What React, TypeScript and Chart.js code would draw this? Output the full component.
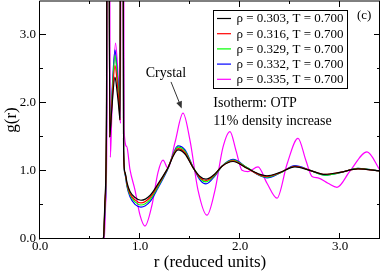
import React, { useEffect, useRef } from 'react';
import { Chart, registerables } from 'chart.js';

Chart.register(...registerables);

const FONT = '"Liberation Serif", "Times New Roman", serif';

// ---- axes ----
const xTickValues = [0, 1, 2, 3];
const xMinorValues = [0.5, 1.5, 2.5];
const yTickValues = [0, 1, 2, 3];
const yMinorValues = [0.5, 1.5, 2.5];

// ---- series ----
const seriesLabels = [
  'ρ = 0.303, T = 0.700',
  'ρ = 0.316, T = 0.700',
  'ρ = 0.329, T = 0.700',
  'ρ = 0.332, T = 0.700',
  'ρ = 0.335, T = 0.700',
];
const seriesColors = ['#000000', '#ff0000', '#00ff00', '#0000ff', '#ff00ff'];

// liquid states share one r grid
const rLiquid = [0, 0.62, 0.635, 0.65, 0.665, 0.672, 0.688, 0.697, 0.715, 0.75, 0.772, 0.79, 0.8, 0.808, 0.828, 0.836, 0.85, 0.87, 0.9, 0.95, 1.01, 1.1, 1.18, 1.27, 1.38, 1.45, 1.53, 1.6, 1.66, 1.75, 1.82, 1.93, 2.07, 2.2, 2.27, 2.4, 2.55, 2.7, 2.85, 3.0, 3.18, 3.4];
const g303 = [0, 0, 0.02, 0.6, 1.9, 7.5, 7.5, 1.5, 1.85, 2.38, 2.15, 1.9, 1.75, 7.5, 7.5, 1.3, 0.98, 0.83, 0.7, 0.61, 0.57, 0.64, 0.81, 1.02, 1.31, 1.25, 1.05, 0.92, 0.88, 0.96, 1.07, 1.14, 1.04, 0.95, 0.93, 0.98, 1.06, 1.01, 0.95, 0.98, 1.03, 1.0];
const g316 = [0, 0, 0.02, 0.55, 1.8, 7.5, 7.5, 1.5, 1.9, 2.55, 2.3, 1.98, 1.75, 7.5, 7.5, 1.3, 0.97, 0.81, 0.67, 0.575, 0.53, 0.61, 0.79, 1.02, 1.33, 1.27, 1.05, 0.9, 0.86, 0.95, 1.07, 1.15, 1.04, 0.94, 0.92, 0.975, 1.07, 1.01, 0.95, 0.98, 1.03, 1.0];
const g329 = [0, 0, 0.02, 0.5, 1.7, 7.5, 7.5, 1.5, 1.95, 2.7, 2.4, 2.05, 1.78, 7.5, 7.5, 1.3, 0.96, 0.79, 0.65, 0.545, 0.5, 0.58, 0.77, 1.01, 1.35, 1.29, 1.06, 0.89, 0.84, 0.94, 1.07, 1.16, 1.05, 0.935, 0.91, 0.97, 1.07, 1.01, 0.94, 0.975, 1.04, 1.0];
const g332 = [0, 0, 0.02, 0.45, 1.6, 7.5, 7.5, 1.5, 2.0, 2.78, 2.45, 2.08, 1.78, 7.5, 7.5, 1.3, 0.95, 0.77, 0.62, 0.51, 0.47, 0.55, 0.75, 1.0, 1.37, 1.31, 1.06, 0.87, 0.81, 0.93, 1.07, 1.17, 1.05, 0.93, 0.9, 0.97, 1.08, 1.01, 0.94, 0.975, 1.04, 1.0];

// crystal state
const rCrystal = [0, 0.63, 0.642, 0.656, 0.67, 0.677, 0.693, 0.703, 0.72, 0.755, 0.777, 0.795, 0.805, 0.813, 0.833, 0.841, 0.867, 0.9, 0.95, 1.0, 1.05, 1.12, 1.18, 1.23, 1.28, 1.35, 1.43, 1.5, 1.58, 1.67, 1.75, 1.83, 1.9, 1.96, 2.02, 2.08, 2.18, 2.27, 2.37, 2.47, 2.58, 2.66, 2.72, 2.78, 2.88, 2.97, 3.1, 3.27, 3.4];
const g335 = [0, 0, 0.02, 0.5, 1.9, 7.5, 7.5, 1.2, 1.9, 2.88, 2.5, 1.95, 1.7, 7.5, 7.5, 1.6, 1.36, 1.02, 0.72, 0.35, 0.19, 0.5, 0.98, 1.16, 1.04, 1.42, 1.85, 1.45, 0.72, 0.35, 0.72, 1.35, 1.58, 1.3, 1.01, 0.99, 1.06, 0.82, 0.6, 1.1, 1.48, 1.15, 0.92, 0.9, 0.82, 0.76, 1.0, 1.28, 1.01];

const seriesR = [rLiquid, rLiquid, rLiquid, rLiquid, rCrystal];
const seriesG = [g303, g316, g329, g332, g335];

const overlayPlugin = {
  id: 'overlay',
  afterDraw(chart: any) {
    const { ctx, chartArea: a, scales } = chart;
    const xs = scales.x;
    const ys = scales.y;
    ctx.save();
    ctx.strokeStyle = '#000';
    ctx.lineWidth = 1;
    // frame
    ctx.beginPath();
    ctx.moveTo(a.left - 0.5, a.top);
    ctx.lineTo(a.right, a.top);
    ctx.moveTo(a.right - 0.5, a.top);
    ctx.lineTo(a.right - 0.5, a.bottom);
    ctx.moveTo(a.left - 0.5, a.top);
    ctx.lineTo(a.left - 0.5, a.bottom + 0.5);
    ctx.moveTo(a.left - 1, a.bottom - 0.5);
    ctx.lineTo(a.right, a.bottom - 0.5);
    ctx.stroke();
    // ticks
    const drawX = (vals: number[], len: number) => {
      vals.forEach((v) => {
        const p = Math.round(xs.getPixelForValue(v)) - 0.5;
        ctx.beginPath();
        ctx.moveTo(p, a.bottom);
        ctx.lineTo(p, a.bottom - len);
        ctx.moveTo(p, a.top);
        ctx.lineTo(p, a.top + len);
        ctx.stroke();
      });
    };
    const drawY = (vals: number[], len: number) => {
      vals.forEach((v) => {
        const p = Math.round(ys.getPixelForValue(v)) - 0.5;
        ctx.beginPath();
        ctx.moveTo(a.left, p);
        ctx.lineTo(a.left + len, p);
        ctx.moveTo(a.right, p);
        ctx.lineTo(a.right - len, p);
        ctx.stroke();
      });
    };
    drawX(xTickValues.slice(1), 6);
    drawX(xMinorValues, 3);
    drawY(yTickValues.slice(1), 6);
    drawY(yMinorValues, 3);

    // legend
    const bx = 213.5, by = 10.5, bw = 134, bh = 78;
    ctx.fillStyle = '#fff';
    ctx.fillRect(bx, by, bw, bh);
    ctx.strokeStyle = '#000';
    ctx.strokeRect(bx, by, bw, bh);
    ctx.font = `13px ${FONT}`;
    ctx.textBaseline = 'middle';
    ctx.textAlign = 'left';
    chart.data.datasets.forEach((ds: any, i: number) => {
      const cy = 18.5 + i * 15.2;
      ctx.strokeStyle = ds.borderColor;
      ctx.lineWidth = 1.2;
      ctx.beginPath();
      ctx.moveTo(217, cy);
      ctx.lineTo(231, cy);
      ctx.stroke();
      ctx.fillStyle = '#000';
      ctx.fillText(ds.label, 236.5, cy + 0.5);
    });

    // annotations
    ctx.fillStyle = '#000';
    ctx.font = `13px ${FONT}`;
    ctx.fillText('(c)', 357, 16);
    ctx.font = `14px ${FONT}`;
    ctx.textAlign = 'center';
    ctx.fillText('Crystal', xs.getPixelForValue(1.26), ys.getPixelForValue(2.44));
    ctx.textAlign = 'left';
    ctx.fillText('Isotherm: OTP', xs.getPixelForValue(1.733), ys.getPixelForValue(2.0));
    ctx.fillText('11% density increase', xs.getPixelForValue(1.733), ys.getPixelForValue(1.725));

    // arrow
    const x0 = xs.getPixelForValue(1.31), y0 = ys.getPixelForValue(2.31);
    const x1 = xs.getPixelForValue(1.417), y1 = ys.getPixelForValue(1.92);
    const ang = Math.atan2(y1 - y0, x1 - x0);
    ctx.strokeStyle = '#333';
    ctx.lineWidth = 1;
    ctx.beginPath();
    ctx.moveTo(x0, y0);
    ctx.lineTo(x1 - 5 * Math.cos(ang), y1 - 5 * Math.sin(ang));
    ctx.stroke();
    ctx.fillStyle = '#333';
    ctx.beginPath();
    ctx.moveTo(x1, y1);
    ctx.lineTo(x1 - 7 * Math.cos(ang) + 3 * Math.sin(ang), y1 - 7 * Math.sin(ang) - 3 * Math.cos(ang));
    ctx.lineTo(x1 - 7 * Math.cos(ang) - 3 * Math.sin(ang), y1 - 7 * Math.sin(ang) + 3 * Math.cos(ang));
    ctx.closePath();
    ctx.fill();
    ctx.restore();
  },
};

export default function App() {
  const ref = useRef<HTMLCanvasElement>(null);
  useEffect(() => {
    document.body.style.margin = '0';
    if (!ref.current) return;
    const datasets = seriesLabels.map((label, i) => ({
      label,
      data: seriesR[i].map((r, k) => ({ x: r, y: seriesG[i][k] })),
      borderColor: seriesColors[i],
      backgroundColor: seriesColors[i],
      borderWidth: 1.2,
      pointRadius: 0,
      showLine: true,
      fill: false,
      cubicInterpolationMode: 'monotone' as const,
    }));
    const chart = new Chart(ref.current, {
      type: 'scatter',
      data: { datasets },
      options: {
        animation: false,
        responsive: false,
        devicePixelRatio: 1,
        layout: { padding: { top: 1, right: 2, left: 0, bottom: 0 } },
        plugins: { legend: { display: false }, tooltip: { enabled: false } },
        scales: {
          x: {
            type: 'linear',
            min: 0,
            max: 3.4,
            afterBuildTicks: (s: any) => {
              s.ticks = xTickValues.map((v) => ({ value: v }));
            },
            afterFit: (s: any) => {
              s.height = 32;
              s.paddingLeft = 0;
              s.paddingRight = 0;
            },
            grid: { display: false, drawTicks: false },
            border: { display: false },
            ticks: {
              autoSkip: false,
              maxRotation: 0,
              padding: 0,
              color: '#000',
              font: { family: FONT, size: 13, lineHeight: 1.2 },
              callback: (v: any) => Number(v).toFixed(1),
            },
            title: {
              display: true,
              text: 'r (reduced units)',
              color: '#000',
              font: { family: FONT, size: 17, lineHeight: 1 },
              padding: 0,
            },
          },
          y: {
            type: 'linear',
            min: 0,
            max: 3.5,
            afterBuildTicks: (s: any) => {
              s.ticks = yTickValues.map((v) => ({ value: v }));
            },
            afterFit: (s: any) => {
              s.width = 40;
              s.paddingTop = 0;
              s.paddingBottom = 0;
            },
            grid: { display: false, drawTicks: false },
            border: { display: false },
            ticks: {
              autoSkip: false,
              padding: 4,
              color: '#000',
              font: { family: FONT, size: 13, lineHeight: 1.2 },
              callback: (v: any) => Number(v).toFixed(1),
            },
            title: {
              display: true,
              text: 'g(r)',
              color: '#000',
              font: { family: FONT, size: 17, lineHeight: 1 },
              padding: { top: 3.5, bottom: 0 },
            },
          },
        },
      },
      plugins: [overlayPlugin],
    });
    return () => chart.destroy();
  }, []);
  return (
    <div style={{ position: 'absolute', left: 0, top: 0, width: 382, height: 271, background: '#fff' }}>
      <canvas ref={ref} width={382} height={271} style={{ display: 'block' }} />
    </div>
  );
}
